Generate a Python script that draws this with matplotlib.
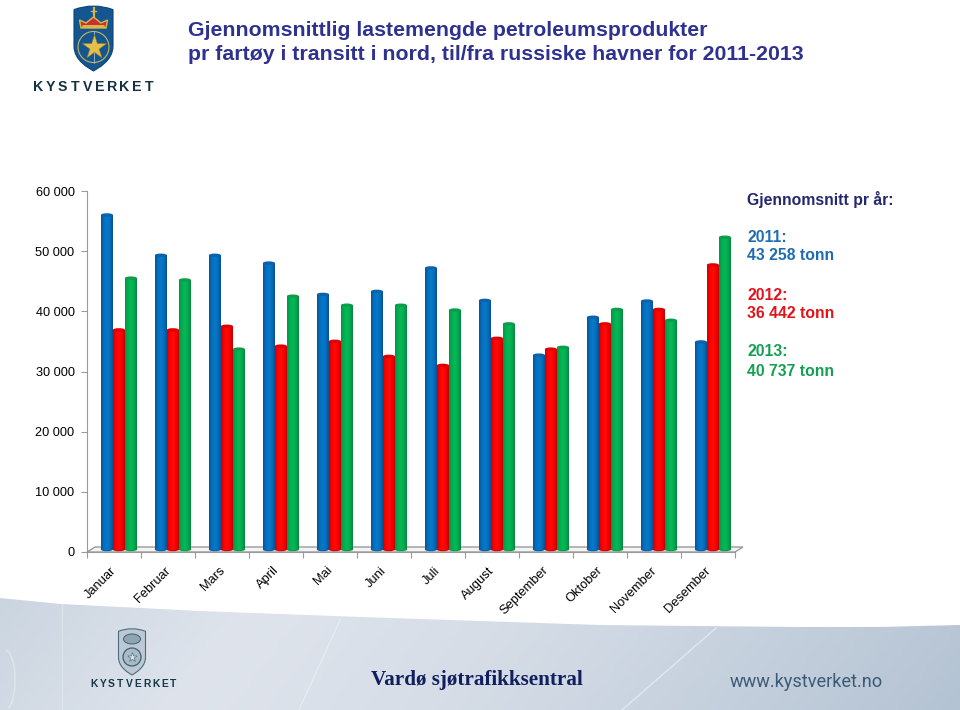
import matplotlib
matplotlib.use('Agg')
import matplotlib.pyplot as plt
import matplotlib.transforms as mtrans
import numpy as np
from matplotlib.colors import LinearSegmentedColormap
from matplotlib.patches import Ellipse, Polygon, Circle, PathPatch
from matplotlib.path import Path

plt.rcParams['font.family'] = ['Liberation Sans', 'DejaVu Sans']

months = ['Januar', 'Februar', 'Mars', 'April', 'Mai', 'Juni', 'Juli', 'August',
          'September', 'Oktober', 'November', 'Desember']
values_2011 = [56300, 49600, 49600, 48300, 43100, 43600, 47500, 42100, 33000, 39300, 42000, 35200]
values_2012 = [37200, 37200, 37800, 34500, 35300, 32800, 31300, 35800, 34000, 38200, 40600, 48000]
values_2013 = [45800, 45500, 34000, 42800, 41300, 41300, 40500, 38200, 34300, 40600, 38800, 52600]
y_ticks = [0, 10000, 20000, 30000, 40000, 50000, 60000]
y_tick_labels = ['0', '10 000', '20 000', '30 000', '40 000', '50 000', '60 000']

title_lines = ['Gjennomsnittlig lastemengde petroleumsprodukter',
               'pr fartøy i transitt i nord, til/fra russiske havner for 2011-2013']
legend_title = 'Gjennomsnitt pr år:'
legend_rows = [('2011:', '43 258 tonn', '#1f6db0', 237),
               ('2012:', '36 442 tonn', '#e2131b', 295),
               ('2013:', '40 737 tonn', '#13a052', 352)]

W, H = 960, 710
fig = plt.figure(figsize=(9.6, 7.1), dpi=100, facecolor='white')

# full figure layer in pixel coordinates, for logos, footer and text
bg = fig.add_axes([0, 0, 1, 1], zorder=0)
bg.set_xlim(0, W)
bg.set_ylim(H, 0)
bg.axis('off')


def draw_footer():
    xs = [0, 61, 200, 361, 600, 796, 880, 960]
    ys = [598, 604, 611, 617, 625, 627, 627, 625]
    poly = Polygon(list(zip(xs, ys)) + [(960, 710), (0, 710)], closed=True,
                   facecolor='none', edgecolor='none')
    bg.add_patch(poly)
    cmap = LinearSegmentedColormap.from_list('foot', ['#cbd5e0', '#dfe4ec', '#d6dde7', '#c6d1de', '#b4c3d3'])
    xx, yy = np.meshgrid(np.linspace(0, 1, 200), np.linspace(0, 1, 30))
    im = bg.imshow(xx * 0.92 + yy * 0.08, cmap=cmap, extent=(0, W, 710, 595), aspect='auto', zorder=1)
    im.set_clip_path(poly)
    # faint light streaks
    bg.plot([299, 340], [710, 620], color='white', alpha=0.35, lw=1, zorder=2)
    bg.plot([622, 716], [710, 628], color='white', alpha=0.45, lw=1, zorder=2)
    bg.plot([62, 62], [604, 710], color='white', alpha=0.25, lw=1, zorder=2)
    t = np.linspace(-1.4, 1.2, 40)
    bg.plot(10 * np.cos(t) + 5, 680 + 30 * np.sin(t), color='white', alpha=0.35, lw=1, zorder=2)
    bg.set_xlim(0, W)
    bg.set_ylim(H, 0)


def draw_shield(cx, top, w, h, face, edge, z=5):
    # shield outline, nearly flat top and pointed bottom
    l, r = cx - w / 2, cx + w / 2
    b = top + h
    verts = [(l, top + h * 0.07), (cx, top - h * 0.04), (r, top + h * 0.07), (r, top + h * 0.62),
             (r, top + h * 0.85), (cx + w * 0.1, b - h * 0.04), (cx, b), (cx - w * 0.1, b - h * 0.04),
             (l, top + h * 0.85), (l, top + h * 0.62), (l, top + h * 0.07)]
    codes = [Path.MOVETO, Path.CURVE3, Path.CURVE3, Path.LINETO, Path.CURVE4, Path.CURVE4, Path.CURVE4,
             Path.CURVE4, Path.CURVE4, Path.CURVE4, Path.LINETO]
    bg.add_patch(PathPatch(Path(verts, codes), facecolor=face, edgecolor=edge, lw=0.8, zorder=z))


def spaced_word(word, x0, step, y, size, col):
    for i, ch in enumerate(word):
        bg.text(x0 + i * step, y, ch, ha='center', va='center', fontsize=size, fontweight='bold',
                color=col, zorder=6)


def draw_logos():
    # top logo
    draw_shield(93.5, 5, 39, 66, '#14568f', '#0e4473')
    bg.add_patch(Polygon([(81, 28), (79.5, 20), (86, 23), (93.5, 17), (101, 23), (107.5, 20), (106, 28)],
                         facecolor='#c8312b', edgecolor='#d9b64a', lw=1, zorder=6))
    bg.add_patch(Polygon([(81, 28), (106, 28), (104, 25), (83, 25)], facecolor='#d9b64a', edgecolor='none', zorder=6))
    bg.plot([93.5, 93.5], [8, 17], color='#d9b64a', lw=1.5, zorder=6)
    bg.plot([91, 96], [11, 11], color='#d9b64a', lw=1, zorder=6)
    bg.add_patch(Circle((93.5, 47), 15.5, facecolor='none', edgecolor='#c9b45a', lw=0.8, zorder=6))
    bg.plot([93.5, 93.5], [31, 63], color='#9fb9cf', lw=0.6, zorder=6)
    bg.scatter([93.5], [47], marker='*', s=340, color='#e3bf4c', edgecolor='#8a7a30', lw=0.4, zorder=7)
    spaced_word('KYSTVERKET', 38, 12.3, 87, 10.2, '#17303f')
    # footer logo
    draw_shield(132, 628, 27, 47, '#bcc9d4', '#4d6c80')
    bg.add_patch(Ellipse((132, 639), 17, 10, facecolor='#8fa5b3', edgecolor='#3f5f72', lw=0.7, zorder=6))
    bg.add_patch(Circle((132, 657), 9, facecolor='#a9bbc7', edgecolor='#3f5f72', lw=0.9, zorder=6))
    bg.scatter([132], [657], marker='*', s=50, color='#dbe3e9', edgecolor='#3f5f72', lw=0.4, zorder=7)
    spaced_word('KYSTVERKET', 94, 8.8, 684, 7.4, '#16384a')


def draw_texts():
    bg.text(188, 29, title_lines[0], fontsize=15.35, fontweight='bold', color='#2e3190', va='center_baseline', zorder=6)
    bg.text(188, 53, title_lines[1], fontsize=15.35, fontweight='bold', color='#2e3190', va='center_baseline', zorder=6)
    bg.text(747, 200, legend_title, fontsize=11.3, fontweight='bold', color='#24286e', va='center', zorder=6)
    for year, avg, col, y in legend_rows:
        bg.text(747, y, year, fontsize=11.3, fontweight='bold', color=col, va='center', zorder=6)
        bg.text(747, y + 19, avg, fontsize=11.3, fontweight='bold', color=col, va='center', zorder=6)
    bg.text(371, 680, 'Vardø sjøtrafikksentral', family='Liberation Serif', fontsize=15.2,
            fontweight='bold', color='#101f5e', va='center', zorder=6)
    bg.text(730, 682, 'www.kystverket.no', family='Roboto', fontsize=13.1, color='#3c5a76',
            va='center', zorder=6)


draw_footer()
draw_logos()
draw_texts()

# back floor of the 3D chart
bg.add_patch(Polygon([(87, 552), (95, 547), (743, 547), (735, 552)], facecolor='#f4f4f4',
                     edgecolor='#9a9a9a', lw=1, zorder=3))

# chart axes lined up with the pixel positions of the axis
ax = fig.add_axes([87 / W, 1 - 552 / H, (735 - 87) / W, (552 - 191) / H], zorder=2)
ax.patch.set_alpha(0)
ax.set_xlim(0, 12)
ax.set_ylim(0, 60000)

bar_w = 0.222
shift = 0.09
cap_h = 550
cmaps = [
    LinearSegmentedColormap.from_list('b', ['#0a5396', '#0070c0', '#0a78c8', '#0070c0', '#0b4f90']),
    LinearSegmentedColormap.from_list('r', ['#cc0000', '#ff0000', '#ff0a0a', '#fa0000', '#bf0000']),
    LinearSegmentedColormap.from_list('g', ['#0a9048', '#00b050', '#08b858', '#00ac4e', '#0a8642']),
]
top_cols = ['#0a62ab', '#de0000', '#0a9e4a']
grad = np.linspace(0, 1, 40).reshape(1, -1)
x = np.arange(12) + 0.5 + shift
base = 400

for k, vals in enumerate([values_2011, values_2012, values_2013]):
    pos = x + (k - 1) * bar_w
    heights = np.array(vals) - cap_h / 2 - base
    bars = ax.bar(pos, heights, width=bar_w, bottom=base, color=top_cols[k], linewidth=0, zorder=3 + k * 0.1)
    for bar, v in zip(bars, vals):
        left = bar.get_x()
        right = left + bar.get_width()
        body_top = v - cap_h / 2
        im = ax.imshow(grad, cmap=cmaps[k], extent=(left, right, base, body_top), aspect='auto',
                       zorder=3.01 + k * 0.1)
        im.set_clip_path(bar)
        mid = (left + right) / 2
        ax.add_patch(Ellipse((mid, body_top), bar_w, cap_h, facecolor=top_cols[k], edgecolor='none', zorder=3.02 + k * 0.1))
        ax.add_patch(Ellipse((mid, base), bar_w, cap_h, facecolor=top_cols[k], edgecolor='none', zorder=3.0 + k * 0.1))

ax.set_xlim(0, 12)
ax.set_ylim(0, 60000)
for s in ['top', 'right']:
    ax.spines[s].set_visible(False)
ax.spines['left'].set_color('#9a9a9a')
ax.spines['bottom'].set_color('#9a9a9a')
ax.set_yticks(y_ticks)
ax.set_yticklabels(y_tick_labels, fontsize=9.2, color='black')
ax.tick_params(axis='y', length=4, color='#9a9a9a', pad=5)
ax.set_xticks(np.arange(13))
ax.set_xticklabels([])
ax.tick_params(axis='x', which='major', length=4, color='#9a9a9a')
ax.set_xticks(np.arange(12) + 0.5, minor=True)
ax.set_xticklabels(months, minor=True, fontsize=9.3, rotation=45, ha='right', va='top',
                   rotation_mode='anchor')
ax.tick_params(axis='x', which='minor', length=0, pad=9)
nudge = mtrans.ScaledTranslation(-3.5 / 100, 0, fig.dpi_scale_trans)
for lab in ax.get_xticklabels(minor=True):
    lab.set_transform(lab.get_transform() + nudge)

fig.savefig('out.png', dpi=100)
